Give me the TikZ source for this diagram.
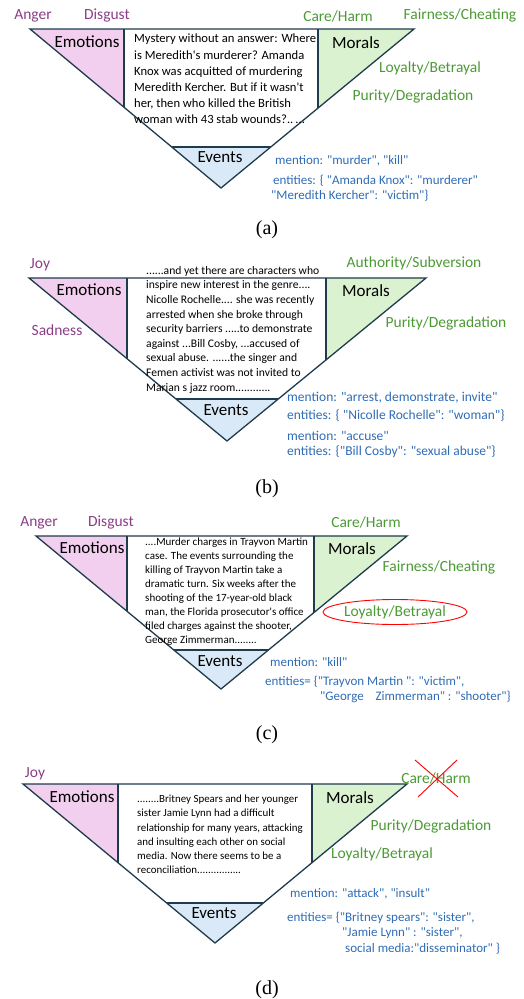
\documentclass[tikz,border=0pt]{standalone}
\usepackage{fontspec}
\setmainfont{Carlito}[Ligatures=TeXOff]
\newfontfamily\capfont{Liberation Serif}
\usetikzlibrary{positioning,shapes.geometric}
\definecolor{edgec}{RGB}{31,59,76}
\definecolor{emopink}{HTML}{F2CEEF}
\definecolor{morgreen}{HTML}{DAF2D0}
\definecolor{evblue}{HTML}{DAE9F7}
\definecolor{emotext}{HTML}{8B3D86}
\definecolor{mortext}{HTML}{4C9A35}
\definecolor{evtext}{HTML}{2F6CB5}

\begin{document}
\begin{tikzpicture}[
  x=1pt, y=-1pt,
  every node/.style={inner sep=0pt},
  frame/.style={draw=edgec, line width=1.3pt},
  part/.style={font=\fontsize{17}{17}\selectfont},
  emolab/.style={text=emotext, font=\fontsize{15.5}{15.5}\selectfont},
  morlab/.style={text=mortext, font=\fontsize{15.5}{15.5}\selectfont},
  evlab/.style={text=evtext, anchor=west, font=\fontsize{13}{13}\selectfont},
  evbig/.style={evlab, font=\fontsize{13.5}{13.5}\selectfont},
  story/.style={anchor=north west, align=left},
  caption/.style={font=\capfont\fontsize{20}{20}\selectfont},
  redmark/.style={draw=red, line width=0.9pt}
]
  \useasboundingbox (0,0) rectangle (524,999);

  % (a)
  \coordinate (La) at (30,29);
  \coordinate (Ra) at (414,29);
  \coordinate (Aa) at (221,188);
  \begin{scope}
    \clip (La) -- (Ra) -- (Aa) -- cycle;
    \fill[emopink] (0,0) rectangle (124,200);
    \fill[morgreen] (318,0) rectangle (524,200);
    \fill[evblue] (0,147) rectangle (524,200);
    \draw[frame] (124,0) -- (124,200) (318,0) -- (318,200) (0,147) -- (524,147);
  \end{scope}
  \draw[frame] (La) -- (Ra) -- (Aa) -- cycle;
  \node[part] (emoa) at (87,42) {Emotions};
  \node[part] (mora) at (356,43) {Morals};
  \node[part] (eva) at (220,157) {Events};
  \node[story, font=\fontsize{12.6}{16.2}\selectfont] (txta) at (134,34)
    {Mystery without an answer: Where\\is Meredith's murderer? Amanda\\Knox was acquitted of murdering\\Meredith Kercher. But if it wasn't\\her, then who killed the British\\woman with 43 stab wounds?..\,...};
  \node[emolab] (angera) at (33,16) {Anger};
  \node[emolab] (disgusta) at (107,15) {Disgust};
  \node[morlab] (carea) at (338,16) {Care/Harm};
  \node[morlab] (faira) at (460,15) {Fairness/Cheating};
  \node[morlab] (loyala) at (430,68) {Loyalty/Betrayal};
  \node[morlab] (puritya) at (413,96) {Purity/Degradation};
  \node[evlab] (menta) at (275,161) {mention: "murder", "kill"};
  \node[evlab] (enta) at (273,181) {entities: \{ "Amanda Knox": "murderer"};
  \node[evlab] (entb) at (271,196) {"Meredith Kercher": "victim"\}};
  \node[caption] (capa) at (267,230) {(a)};

  % (b)
  \coordinate (Lb) at (29,278);
  \coordinate (Rb) at (426,278);
  \coordinate (Ab) at (227,441);
  \begin{scope}
    \clip (Lb) -- (Rb) -- (Ab) -- cycle;
    \fill[emopink] (0,250) rectangle (127,450);
    \fill[morgreen] (326,250) rectangle (524,450);
    \fill[evblue] (0,399) rectangle (524,450);
    \draw[frame] (127,250) -- (127,450) (326,250) -- (326,450) (0,399) -- (524,399);
  \end{scope}
  \draw[frame] (Lb) -- (Rb) -- (Ab) -- cycle;
  \node[part] (emob) at (89,290) {Emotions};
  \node[part] (morb) at (366,291) {Morals};
  \node[part] (evb) at (226,410) {Events};
  \node[story, font=\fontsize{11.6}{14.6}\selectfont] (txtb) at (146,266)
    {......and yet there are characters who\\inspire new interest in the genre....\\Nicolle Rochelle.... she was recently\\arrested when she broke through\\security barriers .....to demonstrate\\against ...Bill Cosby, ...accused of\\sexual abuse. ......the singer and\\Femen activist was not invited to\\Marian s jazz room............};
  \node[emolab] (joyb) at (40,265) {Joy};
  \node[emolab] (sadb) at (57,330) {Sadness};
  \node[morlab] (authb) at (414,263) {Authority/Subversion};
  \node[morlab] (purityb) at (446,323) {Purity/Degradation};
  \node[evbig] (mentb) at (287,398) {mention: "arrest, demonstrate, invite"};
  \node[evbig] (entc) at (287,416) {entities: \{ "Nicolle Rochelle": "woman"\}};
  \node[evbig] (mentc) at (287,436) {mention: "accuse"};
  \node[evbig] (entd) at (287,452) {entities: \{"Bill Cosby": "sexual abuse"\}};
  \node[caption] (capb) at (267,489) {(b)};

  % (c)
  \coordinate (Lc) at (36,536);
  \coordinate (Rc) at (407,536);
  \coordinate (Ac) at (221,689);
  \begin{scope}
    \clip (Lc) -- (Rc) -- (Ac) -- cycle;
    \fill[emopink] (0,500) rectangle (127,700);
    \fill[morgreen] (314,500) rectangle (524,700);
    \fill[evblue] (0,650) rectangle (524,700);
    \draw[frame] (127,500) -- (127,700) (314,500) -- (314,700) (0,650) -- (524,650);
  \end{scope}
  \draw[frame] (Lc) -- (Rc) -- (Ac) -- cycle;
  \node[part] (emoc) at (92,548) {Emotions};
  \node[part] (morc) at (352,549) {Morals};
  \node[part] (evc) at (220,661) {Events};
  \node[story, font=\fontsize{11}{14}\selectfont] (txtc) at (145,538)
    {....Murder charges in Trayvon Martin\\case. The events surrounding the\\killing of Trayvon Martin take a\\dramatic turn. Six weeks after the\\shooting of the 17-year-old black\\man, the Florida prosecutor's office\\filed charges against the shooter,\\George Zimmerman........};
  \node[emolab] (angerc) at (39,523) {Anger};
  \node[emolab] (disgustc) at (111,522) {Disgust};
  \node[morlab] (carec) at (366,522) {Care/Harm};
  \node[morlab] (fairc) at (439,567) {Fairness/Cheating};
  \node[morlab, ellipse, draw=red, line width=0.9pt, minimum width=140pt, minimum height=25pt] (loyalc) at (395,612) {Loyalty/Betrayal};
  \node[evlab] (mentd) at (270,662) {mention: "kill"};
  \node[evlab] (ente) at (265,682) {entities= \{"Trayvon Martin ": "victim",};
  \node[evlab] (entf) at (320,697) {"George\ \ \ \ Zimmerman" : "shooter"\}};
  \node[caption] (capc) at (267,735) {(c)};

  % (d)
  \coordinate (Ld) at (23,784);
  \coordinate (Rd) at (407,784);
  \coordinate (Ad) at (215,943);
  \begin{scope}
    \clip (Ld) -- (Rd) -- (Ad) -- cycle;
    \fill[emopink] (0,750) rectangle (118,950);
    \fill[morgreen] (312,750) rectangle (524,950);
    \fill[evblue] (0,903) rectangle (524,950);
    \draw[frame] (118,750) -- (118,950) (312,750) -- (312,950) (0,903) -- (524,903);
  \end{scope}
  \draw[frame] (Ld) -- (Rd) -- (Ad) -- cycle;
  \node[part] (emod) at (82,797) {Emotions};
  \node[part] (mord) at (350,798) {Morals};
  \node[part] (evd) at (214,913) {Events};
  \node[story, font=\fontsize{10.9}{14.2}\selectfont] (txtd) at (137,795)
    {........Britney Spears and her younger\\sister Jamie Lynn had a difficult\\relationship for many years, attacking\\and insulting each other on social\\media. Now there seems to be a\\reconciliation................};
  \node[emolab] (joyd) at (35,774) {Joy};
  \node[morlab] (cared) at (436,778) {Care/Harm};
  \node[morlab] (purityd) at (431,826) {Purity/Degradation};
  \node[morlab] (loyald) at (382,854) {Loyalty/Betrayal};
  \draw[redmark] (415,760) -- (458,797) (457,760) -- (418,797);
  \node[evlab] (mente) at (290,894) {mention: "attack", "insult"};
  \node[evlab] (entg) at (287,918) {entities= \{"Britney spears": "sister",};
  \node[evlab] (enth) at (342,933) {"Jamie Lynn" : "sister",};
  \node[evlab] (enti) at (345,949) {social media:"disseminator" \}};
  \node[caption] (capd) at (267,990) {(d)};
\end{tikzpicture}
\end{document}
